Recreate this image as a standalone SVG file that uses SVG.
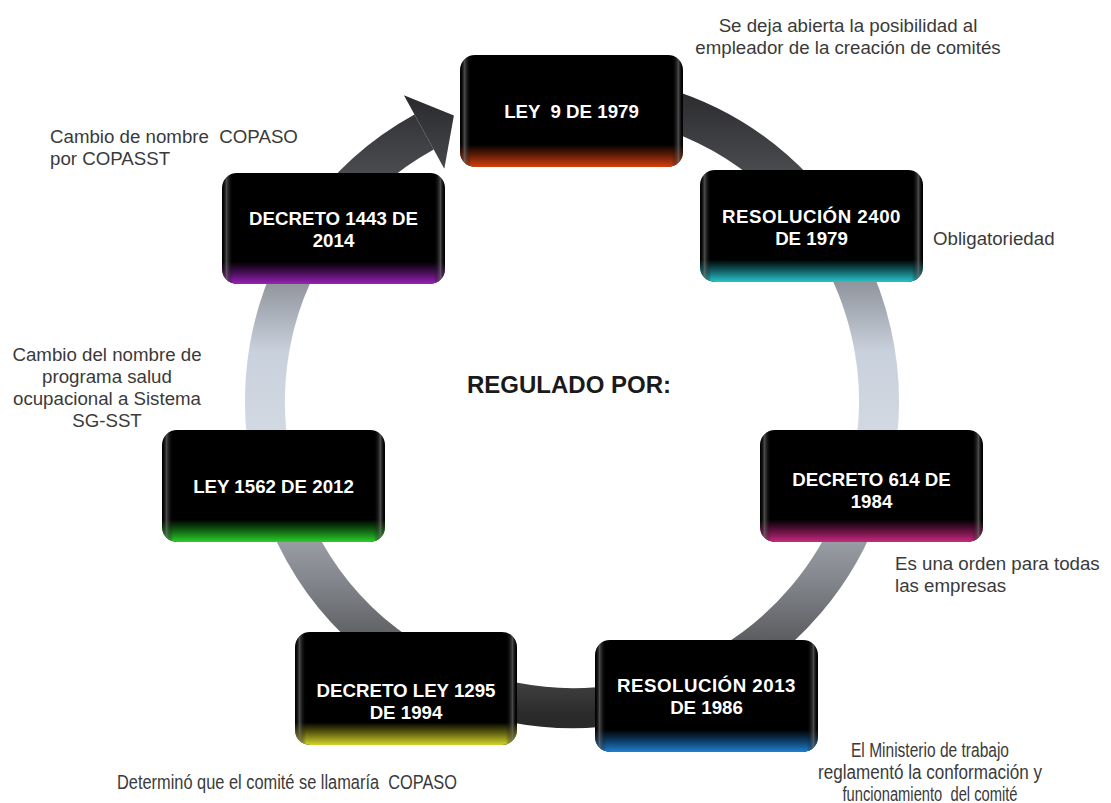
<svg xmlns="http://www.w3.org/2000/svg" width="1111" height="803" viewBox="0 0 1111 803">
<defs>
<style>
text{white-space:pre}
.box{fill:#000}
.bt{font-family:"Liberation Sans",Arial,sans-serif;font-weight:bold;font-size:18.7px;fill:#ffffff;text-anchor:middle}
.lbl{font-family:"Liberation Sans",Arial,sans-serif;font-size:18.7px;fill:#3a3a3a}
.cond{font-size:20px}
.mid{text-anchor:middle}
.title{font-family:"Liberation Sans",Arial,sans-serif;font-weight:bold;font-size:24px;fill:#1a1a1a;text-anchor:middle}
</style>
<linearGradient id="ring" gradientUnits="userSpaceOnUse" x1="0" y1="90" x2="0" y2="715">
<stop offset="0" stop-color="#2b2b2e"/>
<stop offset="0.2" stop-color="#5a5c61"/>
<stop offset="0.42" stop-color="#c9d1dc"/>
<stop offset="0.55" stop-color="#d2d9e3"/>
<stop offset="0.78" stop-color="#85888e"/>
<stop offset="1" stop-color="#2a2a2a"/>
</linearGradient>
<linearGradient id="head" x1="0" y1="0" x2="0" y2="1">
<stop offset="0" stop-color="#2a2a2d"/>
<stop offset="1" stop-color="#45474b"/>
</linearGradient>
<linearGradient id="side" x1="0" y1="0" x2="1" y2="0">
<stop offset="0" stop-color="#000" stop-opacity="0"/>
<stop offset="0.02" stop-color="#6a6a6a" stop-opacity="0.7"/>
<stop offset="0.05" stop-color="#000" stop-opacity="0"/>
<stop offset="0.95" stop-color="#000" stop-opacity="0"/>
<stop offset="0.98" stop-color="#6a6a6a" stop-opacity="0.7"/>
<stop offset="1" stop-color="#000" stop-opacity="0"/>
</linearGradient>
<linearGradient id="gRed" x1="0" y1="0" x2="0" y2="1"><stop offset="0.8" stop-color="#c8380e" stop-opacity="0"/><stop offset="1" stop-color="#d8400e"/></linearGradient>
<linearGradient id="gTeal" x1="0" y1="0" x2="0" y2="1"><stop offset="0.8" stop-color="#20b8c0" stop-opacity="0"/><stop offset="1" stop-color="#28c4cc"/></linearGradient>
<linearGradient id="gPurple" x1="0" y1="0" x2="0" y2="1"><stop offset="0.8" stop-color="#8a1aa8" stop-opacity="0"/><stop offset="1" stop-color="#9a22b8"/></linearGradient>
<linearGradient id="gMagenta" x1="0" y1="0" x2="0" y2="1"><stop offset="0.8" stop-color="#c0207a" stop-opacity="0"/><stop offset="1" stop-color="#c82a80"/></linearGradient>
<linearGradient id="gGreen" x1="0" y1="0" x2="0" y2="1"><stop offset="0.8" stop-color="#20c020" stop-opacity="0"/><stop offset="1" stop-color="#2ad02a"/></linearGradient>
<linearGradient id="gYellow" x1="0" y1="0" x2="0" y2="1"><stop offset="0.8" stop-color="#c8c820" stop-opacity="0"/><stop offset="1" stop-color="#d4d42a"/></linearGradient>
<linearGradient id="gBlue" x1="0" y1="0" x2="0" y2="1"><stop offset="0.8" stop-color="#1a70c0" stop-opacity="0"/><stop offset="1" stop-color="#2080d0"/></linearGradient>
</defs>
<rect width="1111" height="803" fill="#ffffff"/>

<g id="connectors">
<path d="M 518.7 98.7 A 307 307 0 1 1 424.1 132.0" fill="none" stroke="url(#ring)" stroke-width="40"/>
<polygon points="403.9,95.2 453.9,115.6 444.3,168.8" fill="url(#head)"/>
</g>

<g id="n1">
<rect class="box" x="460" y="55" width="223" height="112" rx="15"/>
<rect x="460" y="55" width="223" height="112" rx="15" fill="url(#gRed)"/>
<rect x="460" y="55" width="223" height="112" rx="15" fill="url(#side)"/>
<text class="bt" x="571.5" y="118">LEY  9 DE 1979</text>
</g>
<g id="n2">
<rect class="box" x="700" y="170" width="223" height="112" rx="15"/>
<rect x="700" y="170" width="223" height="112" rx="15" fill="url(#gTeal)"/>
<rect x="700" y="170" width="223" height="112" rx="15" fill="url(#side)"/>
<text class="bt" x="811.5" y="223" letter-spacing="0.5">RESOLUCIÓN 2400</text>
<text class="bt" x="811.5" y="245">DE 1979</text>
</g>
<g id="n3">
<rect class="box" x="222" y="173" width="223" height="111" rx="15"/>
<rect x="222" y="173" width="223" height="111" rx="15" fill="url(#gPurple)"/>
<rect x="222" y="173" width="223" height="111" rx="15" fill="url(#side)"/>
<text class="bt" x="333.5" y="225">DECRETO 1443 DE</text>
<text class="bt" x="333.5" y="247">2014</text>
</g>
<g id="n4">
<rect class="box" x="760" y="430" width="223" height="112" rx="15"/>
<rect x="760" y="430" width="223" height="112" rx="15" fill="url(#gMagenta)"/>
<rect x="760" y="430" width="223" height="112" rx="15" fill="url(#side)"/>
<text class="bt" x="871.5" y="486">DECRETO 614 DE</text>
<text class="bt" x="871.5" y="508">1984</text>
</g>
<g id="n5">
<rect class="box" x="162" y="430" width="223" height="112" rx="15"/>
<rect x="162" y="430" width="223" height="112" rx="15" fill="url(#gGreen)"/>
<rect x="162" y="430" width="223" height="112" rx="15" fill="url(#side)"/>
<text class="bt" x="273.5" y="493">LEY 1562 DE 2012</text>
</g>
<g id="n6">
<rect class="box" x="295" y="632" width="222" height="113" rx="15"/>
<rect x="295" y="632" width="222" height="113" rx="15" fill="url(#gYellow)"/>
<rect x="295" y="632" width="222" height="113" rx="15" fill="url(#side)"/>
<text class="bt" x="406" y="697">DECRETO LEY 1295</text>
<text class="bt" x="406" y="719">DE 1994</text>
</g>
<g id="n7">
<rect class="box" x="595" y="640" width="223" height="112" rx="15"/>
<rect x="595" y="640" width="223" height="112" rx="15" fill="url(#gBlue)"/>
<rect x="595" y="640" width="223" height="112" rx="15" fill="url(#side)"/>
<text class="bt" x="706.5" y="692" letter-spacing="0.5">RESOLUCIÓN 2013</text>
<text class="bt" x="706.5" y="714">DE 1986</text>
</g>

<g id="title">
<text class="title" x="569" y="393">REGULADO POR:</text>
</g>

<g id="labels">
<text class="lbl mid" x="848" y="32">Se deja abierta la posibilidad al</text>
<text class="lbl mid" x="848" y="54">empleador de la creación de comités</text>
<text class="lbl" x="933" y="245">Obligatoriedad</text>
<text class="lbl" x="895" y="570">Es una orden para todas</text>
<text class="lbl" x="895" y="592">las empresas</text>
<text class="lbl" x="50" y="143">Cambio de nombre  COPASO</text>
<text class="lbl" x="50" y="165">por COPASST</text>
<text class="lbl mid" x="107" y="361">Cambio del nombre de</text>
<text class="lbl mid" x="107" y="383">programa salud</text>
<text class="lbl mid" x="107" y="405">ocupacional a Sistema</text>
<text class="lbl mid" x="107" y="427">SG-SST</text>
<text class="lbl cond" x="117" y="789" textLength="340" lengthAdjust="spacingAndGlyphs">Determinó que el comité se llamaría  COPASO</text>
<text class="lbl cond mid" x="930" y="757" textLength="158" lengthAdjust="spacingAndGlyphs">El Ministerio de trabajo</text>
<text class="lbl cond mid" x="930" y="779" textLength="224" lengthAdjust="spacingAndGlyphs">reglamentó la conformación y</text>
<text class="lbl cond mid" x="930" y="801" textLength="175" lengthAdjust="spacingAndGlyphs">funcionamiento  del comité</text>
</g>
</svg>
